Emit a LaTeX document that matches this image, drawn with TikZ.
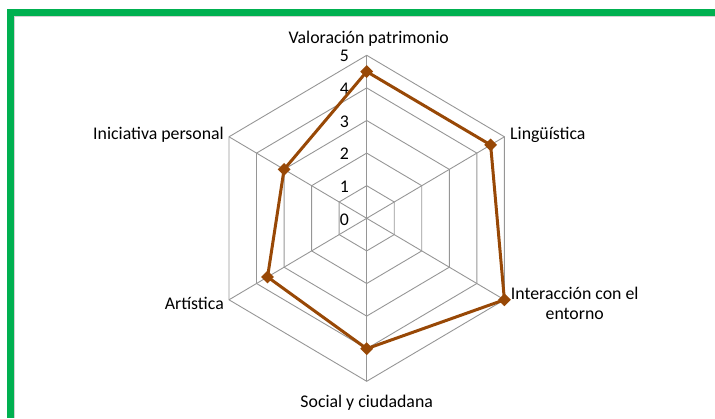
\documentclass[tikz,border=0pt]{standalone}
\usepackage{fontspec}
\setmainfont{Carlito}
\usepackage{xcolor}
\usepackage{tikz}
\usetikzlibrary{positioning,shapes.geometric}
\definecolor{framegreen}{RGB}{0,176,80}
\definecolor{seriesbrown}{RGB}{152,72,6}
\definecolor{gridgray}{RGB}{150,150,150}

\begin{document}
\begin{tikzpicture}[x=1pt, y=1pt, font=\fontsize{17.8}{20}\selectfont]
    \tikzset{grid line/.style={draw=gridgray, line width=0.9pt}}
    \tikzset{axis label/.style={inner sep=0pt, text=black}}
    \tikzset{tick label/.style={inner sep=0pt}}
    \tikzset{series/.style={draw=seriesbrown, line width=3pt, line join=round}}
    \tikzset{marker/.style={diamond, fill=seriesbrown, minimum size=13pt, inner sep=0pt}}
    \useasboundingbox (0,0) rectangle (715,418);
    % Frame
    \fill[framegreen] (7,0) rectangle (14,409);
    \fill[framegreen] (7,402) rectangle (715,409);
    \draw[gray!35] (14.5,0) -- (14.5,401.5) -- (715,401.5);

    \begin{scope}[shift={(366.7pt,199.7pt)}, x=31.8pt, y=32.6pt]
    % Axes
    \coordinate (c) at (0,0);
    \coordinate (val) at (90:5);
    \coordinate (lin) at (30:5);
    \coordinate (int) at (-30:5);
    \coordinate (soc) at (-90:5);
    \coordinate (art) at (-150:5);
    \coordinate (ini) at (150:5);

    % Grid
    \foreach \k in {1,...,5}
        \draw[grid line] (90:\k) -- (30:\k) -- (-30:\k) -- (-90:\k) -- (-150:\k) -- (150:\k) -- cycle;
    \foreach \ax in {val,lin,int,soc,art,ini}
        \draw[grid line] (c) -- (\ax);
    \foreach \k in {0,...,5} {
        \coordinate (t\k) at (90:\k);
        \node (n\k) [tick label, left=17.5pt of t\k, yshift=-1pt] {\k};
    }

    % Labels
    \node (lval) [axis label, above=11.6pt of val, anchor=base, xshift=2pt] {Valoración patrimonio};
    \node (llin) [axis label, right=5.6pt of lin, anchor=base west, yshift=-3.2pt] {Lingüística};
    \node (lint) [axis label, right=6.3pt of int, anchor=north west, yshift=12.5pt, align=center] {Interacción con el\\entorno};
    \node (lsoc) [axis label, below=26pt of soc, anchor=base] {Social y ciudadana};
    \node (lart) [axis label, left=5pt of art, anchor=base east, yshift=-10.2pt] {Artística};
    \node (lini) [axis label, left=5pt of ini, anchor=base east, yshift=-2.5pt] {Iniciativa personal};

    % Series
    \coordinate (d1) at (90:4.5);
    \coordinate (d2) at (30:4.5);
    \coordinate (d3) at (-30:5);
    \coordinate (d4) at (-90:4);
    \coordinate (d5) at (-150:3.6);
    \coordinate (d6) at (150:3);
    \draw[series] (d1) -- (d2) -- (d3) -- (d4) -- (d5) -- (d6) -- cycle;
    \foreach \i in {1,...,6}
        \node (m\i) [marker] at (d\i) {};
    \end{scope}
\end{tikzpicture}
\end{document}
